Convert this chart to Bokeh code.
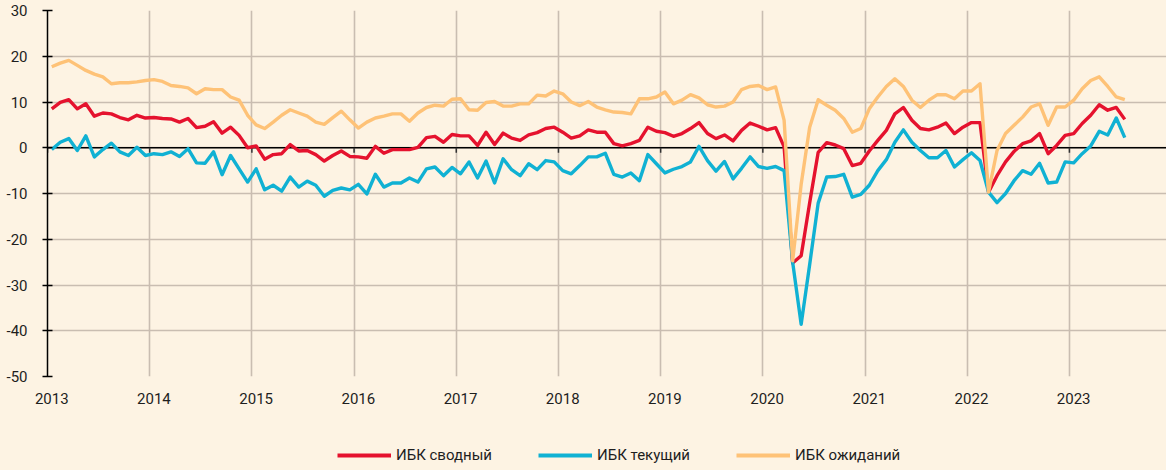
import numpy as np
from bokeh.plotting import figure
from bokeh.layouts import column
from bokeh.models import (Range1d, FixedTicker, Legend, LegendItem, Span,
                          CustomJSTickFormatter)
from bokeh.embed import file_html
from bokeh.resources import INLINE

# ---------------- data (monthly, Jan 2013 - Jul 2023) ----------------
start_year = 2013
years = list(range(2013, 2024))
y_ticks = [-50, -40, -30, -20, -10, 0, 10, 20, 30]
legend_labels = ["ИБК сводный", "ИБК текущий", "ИБК ожиданий"]

svod = [8.5, 9.9, 10.5, 8.5, 9.6, 6.9, 7.6, 7.4, 6.6, 6.1, 7.1, 6.5,
        6.6, 6.4, 6.3, 5.6, 6.4, 4.4, 4.7, 5.7, 3.2, 4.5, 2.7, 0.0,
        0.4, -2.5, -1.5, -1.3, 0.7, -0.7, -0.6, -1.5, -2.9, -1.7, -0.7, -1.9,
        -2.0, -2.3, 0.3, -1.2, -0.4, -0.4, -0.4, 0.1, 2.2, 2.5, 1.2, 2.9,
        2.6, 2.6, 0.5, 3.4, 0.7, 3.2, 2.1, 1.6, 2.8, 3.3, 4.2, 4.5,
        3.4, 2.1, 2.6, 3.9, 3.4, 3.4, 0.9, 0.4, 0.9, 1.6, 4.5, 3.6,
        3.3, 2.5, 3.1, 4.2, 5.5, 3.1, 2.0, 2.8, 1.5, 3.8, 5.4, 4.7,
        3.9, 4.4, 0.2, -25.2, -23.6, -12.0, -1.0, 1.1, 0.6, -0.2, -3.9, -3.4,
        -0.7, 1.6, 3.8, 7.4, 8.8, 6.0, 4.2, 3.9, 4.5, 5.4, 3.1, 4.5,
        5.5, 5.5, -9.7, -6.1, -3.1, -0.8, 0.9, 1.5, 3.1, -1.3, 0.5, 2.7,
        3.1, 5.3, 7.1, 9.4, 8.2, 8.8, 6.2]

tek = [-0.4, 1.2, 2.0, -0.6, 2.6, -2.0, -0.4, 1.0, -0.9, -1.7, 0.1, -1.7,
       -1.3, -1.5, -0.9, -1.9, -0.2, -3.3, -3.4, -0.9, -5.9, -1.7, -4.6, -7.5,
       -4.6, -9.2, -8.2, -9.5, -6.4, -8.6, -7.3, -8.2, -10.6, -9.3, -8.8, -9.2,
       -8.0, -10.1, -5.8, -8.6, -7.7, -7.7, -6.6, -7.5, -4.6, -4.2, -6.1, -4.3,
       -5.7, -3.1, -6.6, -2.9, -7.7, -2.4, -4.8, -6.1, -3.5, -4.8, -2.8, -3.1,
       -5.0, -5.7, -3.9, -2.0, -2.0, -1.2, -5.8, -6.4, -5.5, -7.2, -1.5, -3.5,
       -5.5, -4.7, -4.1, -3.1, 0.3, -2.8, -5.1, -3.0, -6.8, -4.5, -2.0, -4.1,
       -4.5, -4.1, -5.0, -25.0, -38.6, -25.5, -12.1, -6.4, -6.3, -5.8, -10.8, -10.2,
       -8.2, -5.0, -2.6, 1.2, 3.9, 1.2, -0.6, -2.2, -2.2, -0.6, -4.2, -2.6,
       -1.1, -2.8, -9.7, -12.0, -10.0, -7.2, -5.0, -5.8, -3.4, -7.7, -7.5, -3.1,
       -3.3, -1.3, 0.4, 3.6, 2.8, 6.5, 2.2]

ozh = [17.7, 18.5, 19.1, 18.0, 16.9, 16.1, 15.5, 14.0, 14.2, 14.2, 14.4, 14.7,
       14.9, 14.5, 13.6, 13.4, 13.1, 11.8, 12.9, 12.7, 12.7, 11.1, 10.4, 7.1,
       5.0, 4.2, 5.6, 7.1, 8.3, 7.6, 6.9, 5.6, 5.1, 6.6, 8.0, 6.1,
       4.3, 5.6, 6.5, 6.9, 7.4, 7.4, 5.8, 7.6, 8.8, 9.3, 9.1, 10.6,
       10.7, 8.3, 8.2, 9.9, 10.1, 9.1, 9.1, 9.6, 9.6, 11.5, 11.3, 12.4,
       11.8, 10.0, 9.2, 10.1, 8.9, 8.3, 7.8, 7.7, 7.4, 10.7, 10.7, 11.1,
       12.2, 9.6, 10.4, 11.6, 10.9, 9.4, 8.9, 9.1, 10.0, 12.7, 13.4, 13.6,
       12.7, 13.3, 6.0, -24.7, -8.0, 4.5, 10.5, 9.3, 8.2, 6.4, 3.4, 4.2,
       8.5, 11.1, 13.4, 15.1, 13.4, 10.4, 8.8, 10.4, 11.6, 11.6, 10.7, 12.4,
       12.4, 14.0, -9.7, -0.6, 3.1, 4.9, 6.7, 8.9, 9.6, 4.9, 8.9, 8.9,
       10.4, 12.9, 14.7, 15.5, 13.4, 11.1, 10.5]

# ---------------- styling ----------------
BG = "#fdf3e3"
GRID = "#c9bdb1"
TXT = "#1e1e1e"
FONT = "Roboto"
C_SVOD = "#e5122e"
C_TEK = "#10b1d3"
C_OZH = "#fec277"
LW = 3.4
ZERO_TICK = 1.1   # length of the small ticks under the zero line (y units)

n = len(svod)
x = start_year + (np.arange(n) + 0.5) / 12.0   # mid-month positions

p = figure(width=1166, height=420,
           x_range=Range1d(2013, 2023.95), y_range=Range1d(-50, 30),
           output_backend="svg", toolbar_location=None,
           min_border_left=47, min_border_right=0,
           min_border_top=10, min_border_bottom=44)
p.background_fill_color = BG
p.border_fill_color = BG
p.outline_line_color = None

# grids
p.xgrid.ticker = FixedTicker(ticks=years)
p.ygrid.ticker = FixedTicker(ticks=y_ticks)
for g in (p.xgrid, p.ygrid):
    g.grid_line_color = GRID
    g.grid_line_width = 1.6

# y axis
ya = p.yaxis[0]
ya.ticker = FixedTicker(ticks=y_ticks)
ya.formatter = CustomJSTickFormatter(code="return tick.toFixed(0);")
ya.axis_line_color = "black"
ya.axis_line_width = 1.5
ya.major_tick_line_color = "black"
ya.major_tick_line_width = 1.5
ya.major_tick_in = 5
ya.major_tick_out = 5
ya.minor_tick_line_color = None
ya.major_label_standoff = 15
ya.major_label_text_font = FONT
ya.major_label_text_font_size = "15px"
ya.major_label_text_color = TXT

# x axis: labels only (at January positions)
xa = p.xaxis[0]
xa.ticker = FixedTicker(ticks=[y + 0.5 / 12 for y in years])
xa.formatter = CustomJSTickFormatter(code="return Math.floor(tick).toString();")
xa.axis_line_color = None
xa.major_tick_line_color = None
xa.minor_tick_line_color = None
xa.major_tick_in = 0
xa.major_tick_out = 0
xa.major_label_standoff = 16
xa.major_label_text_font = FONT
xa.major_label_text_font_size = "15px"
xa.major_label_text_color = TXT

# zero line with small ticks at year boundaries
p.add_layout(Span(location=0, dimension="width", line_color="black",
                  line_width=1.5, level="underlay"))
p.segment(x0=years, y0=[0] * len(years), x1=years,
          y1=[-ZERO_TICK] * len(years), line_color="#333333", line_width=1.5)

# series (drawn in legend order)
p.line(x, svod, line_color=C_SVOD, line_width=LW, line_join="round")
p.line(x, tek, line_color=C_TEK, line_width=LW, line_join="round")
p.line(x, ozh, line_color=C_OZH, line_width=LW, line_join="round")

# ---------------- legend strip ----------------
pl = figure(width=1166, height=50, x_range=Range1d(0, 1), y_range=Range1d(0, 1),
            output_backend="svg", toolbar_location=None,
            x_axis_location=None, y_axis_location=None,
            min_border_left=0, min_border_right=0,
            min_border_top=0, min_border_bottom=0)
pl.background_fill_color = BG
pl.border_fill_color = BG
pl.outline_line_color = None
pl.grid.visible = False
colors = [C_SVOD, C_TEK, C_OZH]
items = []
for lab, c in zip(legend_labels, colors):
    # legend swatch only: a single off-range point draws nothing on the strip
    r = pl.line(x=[-1.0, -2.0], y=[-1.0, -2.0], line_color=c, line_width=4)
    items.append(LegendItem(label=lab, renderers=[r]))
legend = Legend(items=items, orientation="horizontal", location=(290, 5),
                glyph_width=54, glyph_height=20, label_standoff=5, spacing=46,
                padding=0, margin=0,
                background_fill_alpha=0, border_line_color=None,
                label_text_font=FONT, label_text_font_size="15px",
                label_text_color=TXT)
pl.add_layout(legend, "center")

page = column(p, pl, spacing=0)
html = file_html(page, INLINE).replace(
    "</head>", "<style>body{background:%s;}</style></head>" % BG, 1)
open("out.html", "w").write(html)
